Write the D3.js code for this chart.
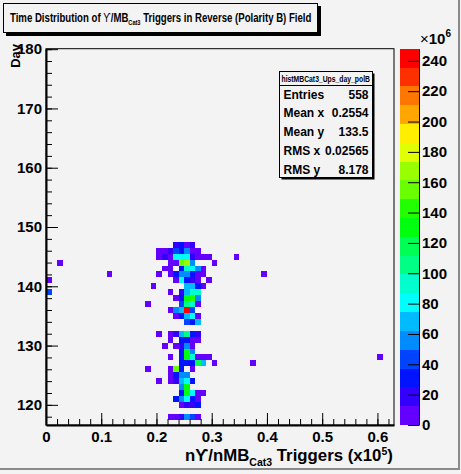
<!DOCTYPE html>
<html>
<head>
<meta charset="utf-8">
<script src="https://cdn.jsdelivr.net/npm/d3@7"></script>
<style>
body { margin: 0; background: #f3f3f3; }
text { font-family: "Liberation Sans", Arial, sans-serif; font-weight: bold; fill: #000; }
</style>
</head>
<body>
<svg id="chart" width="461" height="474"></svg>
<script>
// bin content, in units of 1e6: [x bin centre, day, content]
var cells = [
    [0.235, 147, 19], [0.245, 147, 31], [0.255, 147, 6], [0.265, 147, 19],
    [0.205, 146, 6], [0.215, 146, 6], [0.225, 146, 19], [0.235, 146, 43], [0.245, 146, 31], [0.255, 146, 56], [0.265, 146, 6], [0.275, 146, 6],
    [0.205, 145, 6], [0.215, 145, 19], [0.225, 145, 6], [0.235, 145, 81], [0.245, 145, 81], [0.255, 145, 81], [0.265, 145, 19], [0.275, 145, 6], [0.285, 145, 6], [0.295, 145, 6], [0.345, 145, 6],
    [0.025, 144, 6], [0.225, 144, 6], [0.235, 144, 6], [0.245, 144, 155], [0.255, 144, 168], [0.265, 144, 56], [0.305, 144, 6],
    [0.215, 143, 6], [0.225, 143, 6], [0.245, 143, 31], [0.255, 143, 93], [0.265, 143, 81], [0.275, 143, 56], [0.285, 143, 6],
    [0.115, 142, 6], [0.205, 142, 6], [0.225, 142, 6], [0.235, 142, 31], [0.245, 142, 56], [0.255, 142, 56], [0.265, 142, 31], [0.275, 142, 6], [0.285, 142, 6], [0.395, 142, 6],
    [0.005, 141, 6], [0.235, 141, 6], [0.245, 141, 81], [0.255, 141, 31], [0.265, 141, 19], [0.275, 141, 6], [0.295, 141, 6],
    [0.195, 140, 6], [0.255, 140, 68], [0.265, 140, 68], [0.275, 140, 31], [0.285, 140, 6],
    [0.005, 139, 43], [0.225, 139, 6], [0.245, 139, 19], [0.255, 139, 68], [0.265, 139, 93], [0.275, 139, 93],
    [0.235, 138, 6], [0.245, 138, 31], [0.255, 138, 130], [0.265, 138, 143], [0.275, 138, 56],
    [0.185, 137, 6], [0.245, 137, 43], [0.255, 137, 106], [0.265, 137, 93], [0.275, 137, 6],
    [0.225, 136, 6], [0.235, 136, 56], [0.245, 136, 68], [0.255, 136, 248], [0.265, 136, 43],
    [0.235, 135, 6], [0.245, 135, 31], [0.255, 135, 68], [0.265, 135, 81], [0.275, 135, 6],
    [0.255, 134, 43], [0.265, 134, 31], [0.275, 134, 68],
    [0.205, 132, 6], [0.225, 132, 6], [0.235, 132, 19], [0.245, 132, 68], [0.255, 132, 106], [0.265, 132, 31], [0.275, 132, 19],
    [0.225, 131, 6], [0.245, 131, 31], [0.255, 131, 31], [0.265, 131, 6], [0.275, 131, 6],
    [0.215, 130, 6], [0.235, 130, 6], [0.245, 130, 19], [0.255, 130, 56], [0.265, 130, 6],
    [0.245, 129, 31], [0.255, 129, 130], [0.265, 129, 56],
    [0.225, 128, 6], [0.245, 128, 31], [0.255, 128, 130], [0.265, 128, 93], [0.275, 128, 6], [0.285, 128, 6], [0.295, 128, 6], [0.605, 128, 6],
    [0.245, 127, 31], [0.255, 127, 31], [0.265, 127, 31], [0.275, 127, 118], [0.285, 127, 68], [0.305, 127, 6], [0.375, 127, 6],
    [0.185, 126, 6], [0.225, 126, 6], [0.235, 126, 155], [0.245, 126, 31], [0.265, 126, 6],
    [0.225, 125, 6], [0.235, 125, 31], [0.245, 125, 56], [0.255, 125, 56],
    [0.205, 124, 6], [0.225, 124, 6], [0.235, 124, 19], [0.245, 124, 68], [0.255, 124, 81], [0.265, 124, 31],
    [0.245, 123, 56], [0.255, 123, 130],
    [0.245, 122, 31], [0.255, 122, 130], [0.265, 122, 81], [0.275, 122, 6], [0.285, 122, 6],
    [0.235, 121, 31], [0.245, 121, 56], [0.255, 121, 81], [0.265, 121, 31], [0.275, 121, 6],
    [0.245, 120, 6], [0.255, 120, 19], [0.265, 120, 19], [0.275, 120, 31],
    [0.225, 118, 6], [0.235, 118, 6], [0.245, 118, 19], [0.255, 118, 56], [0.265, 118, 43], [0.275, 118, 6]
];

var xTicks = [0, 0.1, 0.2, 0.3, 0.4, 0.5, 0.6];
var xLabels = ["0", "0.1", "0.2", "0.3", "0.4", "0.5", "0.6"];
var dayTicks = [120, 130, 140, 150, 160, 170, 180];
var zTicks = [0, 20, 40, 60, 80, 100, 120, 140, 160, 180, 200, 220, 240];
var statNames = ["Entries", "Mean x", "Mean y", "RMS x", "RMS y"];
var statValues = ["558", "0.2554", "133.5", "0.02565", "8.178"];

var binW = 0.01;
var nContours = 20;
var zMax = d3.max(cells, function(d) { return d[2]; });

var svg = d3.select("#chart");

var x = d3.scaleLinear().domain([0, 0.63]).range([46, 394]);
var y = d3.scaleLinear().domain([116.6, 180.08]).range([425, 48.7]);
var z = d3.scaleLinear().domain([0, zMax]).range([425, 48.7]);

// ROOT pretty palette: 50 hues from violet to red, 20 contour levels
var bandColor = function(band) {
    var j = Math.floor((band + 0.99) * 50 / nContours);
    var hue = j >= 49 ? 0 : 280 - (j + 1) * 5.6;
    return d3.hsl(hue, 1, 0.5).formatHex();
};
var cellColor = function(v) {
    var band = Math.min(nContours - 1, Math.floor(v / zMax * nContours));
    return bandColor(band);
};

// squeeze a text horizontally so it spans a given width
var fitWidth = function(sel, left, baseline, width) {
    var w = sel.node().getBBox().width;
    sel.attr("transform", "translate(" + left + "," + baseline + ") scale(" + (width / w) + ",1)");
};

// canvas bevel
svg.append("rect").attr("x", 0).attr("y", 0).attr("width", 461).attr("height", 474).attr("fill", "#f3f3f3");
svg.append("line").attr("x1", 459).attr("x2", 459).attr("y1", 0).attr("y2", 470).attr("stroke", "#8a8a8a").attr("stroke-width", 2);
svg.append("line").attr("x1", 0).attr("x2", 460).attr("y1", 469).attr("y2", 469).attr("stroke", "#8a8a8a").attr("stroke-width", 2);

// cells
svg.append("g")
    .selectAll("rect")
    .data(cells)
    .enter()
    .append("rect")
    .attr("x", function(d) { return x(d[0] - binW / 2); })
    .attr("y", function(d) { return y(d[1] + 0.5); })
    .attr("width", function(d) { return x(d[0] + binW / 2) - x(d[0] - binW / 2); })
    .attr("height", function(d) { return y(d[1] - 0.5) - y(d[1] + 0.5); })
    .attr("fill", function(d) { return cellColor(d[2]); })
    .attr("shape-rendering", "crispEdges");

// frame
svg.append("rect")
    .attr("x", 46).attr("y", 48.7)
    .attr("width", 394 - 46).attr("height", 425 - 48.7)
    .attr("fill", "none").attr("stroke", "#000").attr("stroke-width", 1);

// y axis
var yMinor = d3.range(118, 181, 2);
svg.append("g")
    .attr("transform", "translate(46,0)")
    .call(d3.axisLeft(y).tickValues(yMinor).tickSize(-6).tickSizeOuter(0).tickFormat(""))
    .call(function(g) { g.select(".domain").remove(); });
var yAxis = svg.append("g")
    .attr("transform", "translate(46,0)")
    .call(d3.axisLeft(y).tickValues(dayTicks).tickSize(-12).tickSizeOuter(0).tickPadding(4).tickFormat(d3.format("d")));
yAxis.select(".domain").attr("stroke-width", 2);
yAxis.selectAll("text").style("font-size", "15px");

// x axis
var xMinor = d3.range(0, 0.63, 0.02);
svg.append("g")
    .attr("transform", "translate(0,425)")
    .call(d3.axisBottom(x).tickValues(xMinor).tickSize(-6).tickSizeOuter(0).tickFormat(""))
    .call(function(g) { g.select(".domain").remove(); });
var xAxis = svg.append("g")
    .attr("transform", "translate(0,425)")
    .call(d3.axisBottom(x).tickValues(xTicks).tickSize(-12).tickSizeOuter(0).tickPadding(6)
        .tickFormat(function(d, i) { return xLabels[i]; }));
xAxis.select(".domain").attr("stroke-width", 2);
xAxis.selectAll("text").style("font-size", "15px");

// axis titles
svg.append("text")
    .attr("transform", "translate(20,44) rotate(-90)")
    .attr("text-anchor", "end")
    .style("font-size", "13px")
    .text("Day");

var xTitle = svg.append("text").style("font-size", "16px");
xTitle.append("tspan").text("nϒ/nMB");
xTitle.append("tspan").attr("dy", 5).style("font-size", "10px").text("Cat3");
xTitle.append("tspan").attr("dy", -5).text(" Triggers (x10");
xTitle.append("tspan").attr("dy", -6).style("font-size", "10px").text("5");
xTitle.append("tspan").attr("dy", 6).text(")");
fitWidth(xTitle, 185, 461, 208);

// palette
var bands = d3.range(nContours);
svg.append("g")
    .selectAll("rect")
    .data(bands)
    .enter()
    .append("rect")
    .attr("x", 400)
    .attr("width", 19)
    .attr("y", function(b) { return z((b + 1) * zMax / nContours); })
    .attr("height", function(b) { return z(b * zMax / nContours) - z((b + 1) * zMax / nContours); })
    .attr("fill", function(b) { return bandColor(b); })
    .attr("shape-rendering", "crispEdges");

var zAxis = svg.append("g")
    .attr("transform", "translate(419,0)")
    .call(d3.axisRight(z).tickValues(zTicks).tickSize(-11).tickSizeOuter(0).tickPadding(3));
zAxis.select(".domain").attr("stroke-width", 1);
zAxis.selectAll("text").style("font-size", "15px");

var zExp = svg.append("text").attr("x", 420).attr("y", 44).style("font-size", "15px");
zExp.append("tspan").style("font-weight", "normal").text("×");
zExp.append("tspan").text("10");
zExp.append("tspan").attr("dy", -7).style("font-size", "10px").text("6");

// title pave
svg.append("rect").attr("x", 6).attr("y", 6).attr("width", 315).attr("height", 30).attr("fill", "#000");
svg.append("rect").attr("x", 3.5).attr("y", 3.5).attr("width", 314).attr("height", 29)
    .attr("fill", "#f3f3f3").attr("stroke", "#000");
var title = svg.append("text").style("font-size", "12px");
title.append("tspan").text("Time Distribution of ");
title.append("tspan").style("font-weight", "normal").text("ϒ");
title.append("tspan").text("/MB");
title.append("tspan").attr("dy", 3).style("font-size", "7px").text("Cat3");
title.append("tspan").attr("dy", -3).text(" Triggers in Reverse (Polarity B) Field");
fitWidth(title, 10, 21.5, 302);

// stats box
var sx = 279.5, sy = 71.5, sw = 93, sh = 106;
svg.append("rect").attr("x", sx + 2).attr("y", sy + 2).attr("width", sw).attr("height", sh).attr("fill", "#000");
svg.append("rect").attr("x", sx).attr("y", sy).attr("width", sw).attr("height", sh)
    .attr("fill", "#f3f3f3").attr("stroke", "#000");
svg.append("line").attr("x1", sx).attr("x2", sx + sw).attr("y1", sy + 14).attr("y2", sy + 14).attr("stroke", "#000");
var header = svg.append("text").style("font-size", "9px").text("histMBCat3_Ups_day_polB");
fitWidth(header, sx + 2, sy + 10, 89);

var rowY = d3.scalePoint().domain(statNames).range([sy + 27, sy + 102]);
svg.append("g").selectAll("text").data(statNames).enter().append("text")
    .attr("x", sx + 4).attr("y", function(d) { return rowY(d); })
    .style("font-size", "12px")
    .text(function(d) { return d; });
svg.append("g").selectAll("text").data(statValues).enter().append("text")
    .attr("x", sx + sw - 4).attr("y", function(d, i) { return rowY(statNames[i]); })
    .attr("text-anchor", "end")
    .style("font-size", "12px")
    .text(function(d) { return d; });
</script>
</body>
</html>
